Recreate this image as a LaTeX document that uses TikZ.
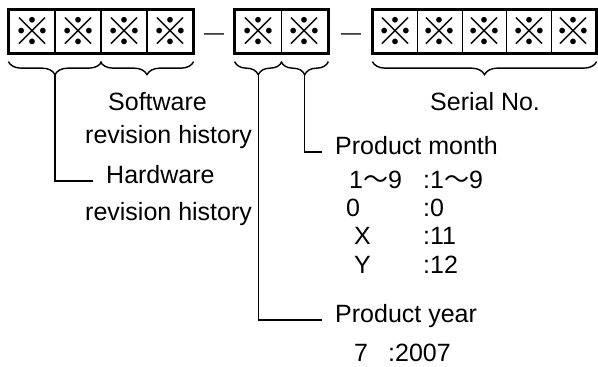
\documentclass[tikz,border=0pt]{standalone}
\usepackage{fontspec}
\setmainfont{Liberation Sans}
\newfontfamily\cjk{Noto Sans CJK JP}
\usetikzlibrary{calc,decorations.pathreplacing}
\tikzset{
	cell/.style={draw, line width=1.3pt, minimum width=46pt, minimum height=43pt, inner sep=0pt, font=\cjk\fontsize{38}{38}\selectfont},
	group/.style={line width=3pt},
	brc/.style={decorate, decoration={brace, mirror, amplitude=13pt, raise=8pt}, line width=1.4pt},
	lead/.style={line width=1.4pt},
	lbl/.style={anchor=mid west, inner xsep=13pt, inner ysep=0pt},
	txt/.style={anchor=base west, inner sep=0pt},
	sep/.style={anchor=base, inner sep=0pt, font=\fontsize{20}{20}\selectfont},
}

\begin{document}
\begin{tikzpicture}[x=1pt, y=-1pt, font=\fontsize{25}{30}\selectfont]
		%%%%% START %%%%%
		\useasboundingbox (0, 0) rectangle (598, 367);
		
		% code boxes
		\foreach \i in {1,...,4}
			\node[cell] (a\i) at ({9+46*(\i-0.5)}, 31.5) {※};
		\foreach \i in {1,2}
			\node[cell] (b\i) at ({235+46.5*(\i-0.5)}, 31.5) {※};
		\foreach \i in {1,...,5}
			\node[cell, minimum width=44.6pt] (c\i) at ({373+44.6*(\i-0.5)}, 31.5) {※};
		
		\draw[group] (a1.north west) rectangle (a4.south east);
		\draw[group] (b1.north west) rectangle (b2.south east);
		\draw[group] (c1.north west) rectangle (c5.south east);
		
		\node[sep] (d1) at (214, 39) {—};
		\node[sep] (d2) at (351, 39) {—};
		
		% braces
		\draw[brc] (a1.south west) -- (a2.south east);
		\draw[brc] (a3.south west) -- (a4.south east);
		\draw[brc] (b1.south west) -- (b1.south east);
		\draw[brc] (b2.south west) -- (b2.south east);
		\draw[brc] (c1.south west) -- (c5.south east);
		
		\coordinate (t1) at ($(a1.south west)!0.5!(a2.south east)+(0, 21)$);
		\coordinate (t3) at ($(b1.south)+(0, 21)$);
		\coordinate (t4) at ($(b2.south)+(0, 21)$);
		
		% labels
		\node[txt] (sw) at (108, 110) {Software};
		\node[txt] (swrev) at (85, 143) {revision history};
		\node[lbl] (hw) at (93, 181) {Hardware};
		\node[txt] (hwrev) at (85, 220) {revision history};
		\node[txt] (serial) at (430, 110) {Serial No.};
		
		\node[lbl] (pm) at (322, 152) {Product month};
		\node[txt] (m1) at (349, 188) {1{\cjk ～}9};
		\node[txt] (v1) at (423, 188) {:1{\cjk ～}9};
		\node[txt] (m2) at (346, 216) {0};
		\node[txt] (v2) at (423, 216) {:0};
		\node[txt] (m3) at (354, 244) {X};
		\node[txt] (v3) at (423, 244) {:11};
		\node[txt] (m4) at (354, 273) {Y};
		\node[txt] (v4) at (423, 273) {:12};
		
		\node[lbl] (py) at (322, 320) {Product year};
		\node[txt] (yk) at (354, 361) {7};
		\node[txt] (yv) at (388, 361) {:2007};
		
		% leaders
		\draw[lead] (t1) |- (hw.mid west);
		\draw[lead] (t3) |- (py.mid west);
		\draw[lead] (t4) |- (pm.mid west);
		%%%%% END %%%%%
\end{tikzpicture}
\end{document}
